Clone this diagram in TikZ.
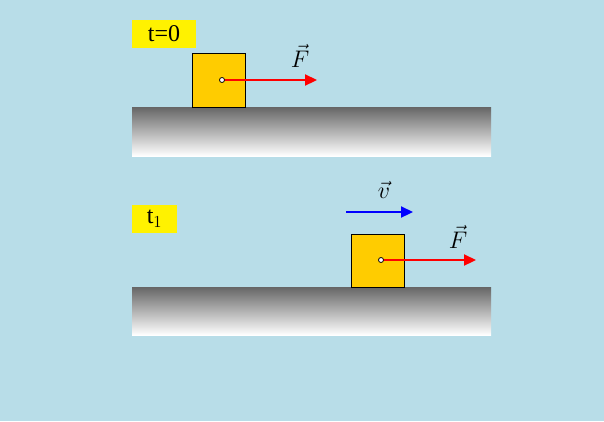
\documentclass[tikz,border=0pt]{standalone}
\usepackage{fix-cm}
\usepackage{fontspec}
\setmainfont{Liberation Serif}
\usetikzlibrary{arrows.meta}
\definecolor{bg}{HTML}{B8DDE8}
\definecolor{boxc}{HTML}{FFCC00}
\begin{document}
\begin{tikzpicture}[x=1pt,y=-1pt,
 ground/.style={top color=black!60,bottom color=white,draw=none},
 block/.style={draw=black,fill=boxc,line width=1pt},
 force/.style={red,line width=2.2pt,-{Triangle[length=12pt,width=11pt]}},
 vel/.style={blue,line width=2.2pt,-{Triangle[length=12pt,width=11pt]}},
 tag/.style={fill=yellow,inner sep=0pt,font=\fontsize{24}{24}\selectfont},
 pt/.style={circle,draw=black,fill=white,inner sep=0pt,minimum size=5pt,line width=0.8pt},
 lbl/.style={font=\fontsize{24}{24}\selectfont}]
\fill[bg] (0,0) rectangle (604,421);
\useasboundingbox (0,0) rectangle (604,421);
\shade[ground] (132,107) rectangle (491,156);
\shade[ground] (132,287) rectangle (491,335);
\node[tag,minimum width=64pt,minimum height=28pt] (t0) at (164,34) {t=0};
\node[tag,minimum width=45pt,minimum height=28pt] (t1) at (154.5,219) {t$_1$};
\draw[block] (192,53) rectangle (245,107);
\draw[block] (351,234) rectangle (404,287);
\coordinate (e1) at (317,80);
\draw[force] (222,80) -- (e1);
\node[pt] (c1) at (222,80) {};
\node[lbl] (f1) at (300,56) {$\vec F$};
\coordinate (e2) at (476,260);
\draw[force] (381,260) -- (e2);
\node[pt] (c2) at (381,260) {};
\node[lbl] (f2) at (458,237) {$\vec F$};
\coordinate (vs) at (346,212);
\coordinate (ve) at (413,212);
\draw[vel] (vs) -- (ve);
\node[lbl] (v) at (384,190) {$\vec v$};
\end{tikzpicture}
\end{document}
